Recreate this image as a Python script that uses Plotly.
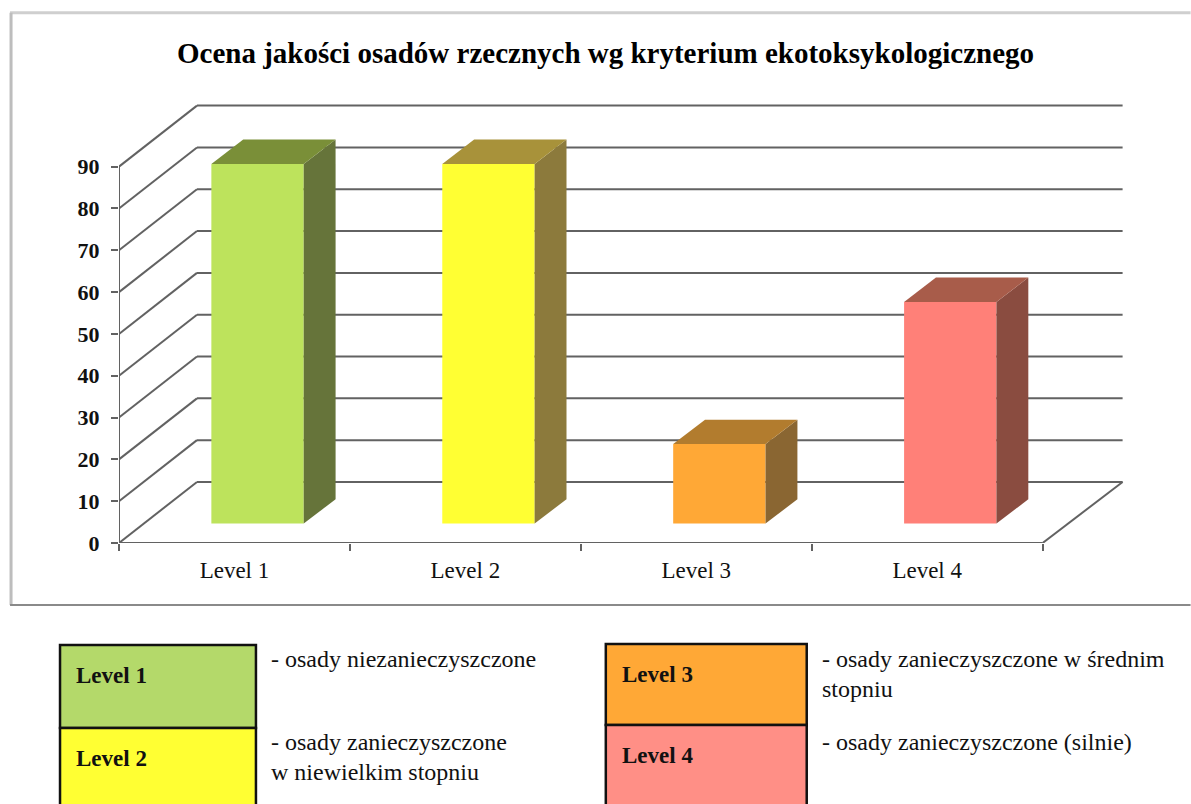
import plotly.graph_objects as go

categories = ["Level 1", "Level 2", "Level 3", "Level 4"]
values = [86, 86, 19, 53]
y_ticks = [0, 10, 20, 30, 40, 50, 60, 70, 80, 90]
front_colors = ["#BDE35C", "#FFFF33", "#FFA836", "#FF8078"]
side_colors = ["#66743A", "#8C7A3C", "#8A6632", "#8A4C40"]
top_colors = ["#7A8F38", "#A8923A", "#B27C2E", "#A85C4A"]
legend_texts = [
    ["- osady niezanieczyszczone"],
    ["- osady zanieczyszczone", "w niewielkim stopniu"],
    ["- osady zanieczyszczone w średnim", "stopniu"],
    ["- osady zanieczyszczone (silnie)"],
]
legend_colors = ["#B4D96A", "#FFFF33", "#FFA836", "#FF8F86"]
title = "Ocena jakości osadów rzecznych wg kryterium ekotoksykologicznego"

W, H = 1191, 804
L, BOT = 119, 543
CAT_PX, UNIT_PX = 231.0, 4.18
XMAX, YMAX = 4.4, 110
R = L + XMAX * CAT_PX
T = BOT - YMAX * UNIT_PX
GRAY = "#626262"
SERIF = "Liberation Serif"

BAR_W = 0.4
BAR_OFF = 0.6
BAR_BASE = 4.66
DX, DY = 0.138, 5.8
WALL_DX, WALL_DY = 78 / CAT_PX, 61 / UNIT_PX
RIGHT_DX = 80 / CAT_PX


def px(x):
    return (x - L) / (R - L)


def py(y):
    return (BOT - y) / (BOT - T)


def line(x0, y0, x1, y1, color=GRAY, width=2):
    return dict(type="line", xref="x", yref="y", x0=x0, y0=y0, x1=x1, y1=y1,
                layer="below", line=dict(color=color, width=width))


fig = go.Figure()
shapes = []
n = len(categories)
for t in y_ticks:
    shapes.append(line(0, t, WALL_DX, t + WALL_DY))
    shapes.append(line(WALL_DX, t + WALL_DY, n + RIGHT_DX, t + WALL_DY))
shapes.append(line(n, 0, n + RIGHT_DX, WALL_DY))
shapes.append(line(0, 0, n, 0))
shapes.append(line(0, 0, 0, y_ticks[-1]))

fig.add_trace(go.Bar(
    x=[i + BAR_OFF for i in range(n)], y=values, base=[BAR_BASE] * n,
    width=BAR_W, marker=dict(color=front_colors, line=dict(width=0)),
    showlegend=False, cliponaxis=False,
))

for i, v in enumerate(values):
    x0 = i + BAR_OFF - BAR_W / 2
    x1 = x0 + BAR_W
    bot, top = BAR_BASE, BAR_BASE + v
    fig.add_trace(go.Scatter(
        x=[x1, x1 + DX, x1 + DX, x1, x1], y=[bot, bot + DY, top + DY, top, bot],
        mode="lines", fill="toself", fillcolor=side_colors[i],
        line=dict(width=0), showlegend=False, hoverinfo="skip"))
    fig.add_trace(go.Scatter(
        x=[x0, x1, x1 + DX, x0 + DX, x0], y=[top, top, top + DY, top + DY, top],
        mode="lines", fill="toself", fillcolor=top_colors[i],
        line=dict(width=0), showlegend=False, hoverinfo="skip"))

# outer chart frame: pale top and left, darker bottom
shapes.append(dict(type="line", xref="paper", yref="paper", x0=px(10), x1=px(W), y0=py(13), y1=py(13),
                   layer="below", line=dict(color="#CFCFCF", width=3)))
shapes.append(dict(type="line", xref="paper", yref="paper", x0=px(11), x1=px(11), y0=py(13), y1=py(605),
                   layer="below", line=dict(color="#BDBDBD", width=3)))
shapes.append(dict(type="line", xref="paper", yref="paper", x0=px(10), x1=px(W), y0=py(605), y1=py(605),
                   layer="below", line=dict(color="#8A8A8A", width=2)))

# key boxes below the chart
boxes = [(60, 256, 645, 728), (60, 256, 728, 812), (606, 807, 644, 725), (606, 807, 725, 812)]
key_pos = [(269, 659), (269, 742), (820, 659), (820, 742)]
annotations = []
for i, (x0, x1, y0, y1) in enumerate(boxes):
    shapes.append(dict(type="rect", xref="paper", yref="paper", x0=px(x0), x1=px(x1),
                       y0=py(y1), y1=py(y0), fillcolor=legend_colors[i],
                       line=dict(color="#111111", width=2.5)))
    annotations.append(dict(xref="paper", yref="paper", x=px(x0 + 14), y=py(y0 + 30),
                            text="<b>%s</b>" % categories[i], showarrow=False,
                            xanchor="left", yanchor="middle",
                            font=dict(family=SERIF, size=23, color="#111111")))
    for j, txt in enumerate(legend_texts[i]):
        annotations.append(dict(xref="paper", yref="paper", x=px(key_pos[i][0]),
                                y=py(key_pos[i][1] + 29.5 * j), text=txt, showarrow=False,
                                xanchor="left", yanchor="middle",
                                font=dict(family=SERIF, size=24, color="#111111")))

annotations.append(dict(xref="paper", yref="paper", x=px(606), y=py(53),
                        text="<b>%s</b>" % title, showarrow=False,
                        xanchor="center", yanchor="middle",
                        font=dict(family=SERIF, size=29, color="#000000")))

fig.update_layout(
    width=W, height=H, autosize=False,
    margin=dict(l=L, r=W - R, t=T, b=H - BOT, pad=0),
    paper_bgcolor="white", plot_bgcolor="rgba(0,0,0,0)",
    shapes=shapes, annotations=annotations, showlegend=False,
    xaxis=dict(range=[0, XMAX], tickmode="array",
               tickvals=[i + 0.5 for i in range(n)], ticktext=categories,
               showgrid=False, zeroline=False, showline=False, ticks="",
               ticklabelstandoff=11,
               tickfont=dict(family=SERIF, size=23, color="#111111"),
               minor=dict(tickmode="array", tickvals=list(range(n + 1)), ticks="outside",
                          ticklen=7, tickwidth=2, tickcolor=GRAY, showgrid=False)),
    yaxis=dict(range=[0, YMAX], tickmode="array", tickvals=y_ticks,
               ticktext=[str(t) for t in y_ticks],
               showgrid=False, zeroline=False, showline=False,
               ticks="outside", ticklen=7, tickwidth=2, tickcolor=GRAY,
               ticklabelstandoff=7,
               tickfont=dict(family=SERIF, size=22, color="#111111", weight="bold")),
)

fig.write_html("out.html", config=dict(displayModeBar=False),
               post_script="document.body.style.margin='0';document.body.style.overflow='hidden';")
